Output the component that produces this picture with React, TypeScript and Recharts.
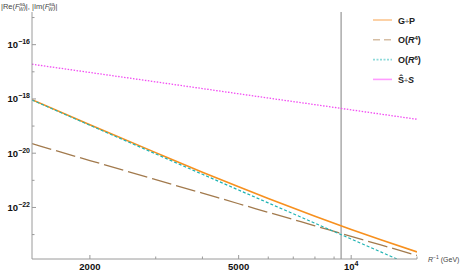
import { Customized, Line, LineChart, ReferenceLine, XAxis, YAxis } from "recharts";

const X_VALUES = [1400, 2000, 3000, 4000, 5000, 6000, 8000, 10000, 12000, 15000];
const GP = [9.34e-19, 1.12e-19, 1.05e-20, 2.0e-21, 5.75e-22, 2.13e-22, 4.72e-23, 1.55e-23, 6.45e-24, 2.3e-24];
const R4 = [2.24e-20, 5.37e-21, 1.06e-21, 3.36e-22, 1.37e-22, 6.64e-23, 2.1e-23, 8.59e-24, 4.15e-24, 1.7e-24];
const R6 = [9.12e-19, 1.07e-19, 9.4e-21, 1.67e-21, 4.38e-22, 1.47e-22, 2.62e-23, 6.86e-24, 2.3e-24, 6.0e-25];
const SS = [1.9e-17, 9.44e-18, 4.26e-18, 2.41e-18, 1.55e-18, 1.08e-18, 6.16e-19, 3.96e-19, 2.76e-19, 1.78e-19];

const X_TICKS = [2000, 3000, 4000, 5000, 6000, 7000, 8000, 9000, 10000, 15000];
const X_MAJOR = [2000, 5000, 10000];
const Y_TICKS = [1e-15, 1e-16, 1e-17, 1e-18, 1e-19, 1e-20, 1e-21, 1e-22, 1e-23];
const CUT = 9400;

const FONT = "'Liberation Sans', Arial, sans-serif";
const AXIS = "#9a9a9a";

const data = X_VALUES.map((x, i) => ({ x, gp: GP[i], r4: R4[i], r6: R6[i], ss: SS[i] }));

const LEGEND = [
  { key: "gp", color: "#fcc690", dash: undefined },
  { key: "r4", color: "#d6bea4", dash: "7 4" },
  { key: "r6", color: "#8edada", dash: "2 1.5" },
  { key: "ss", color: "#ff9cff", dash: undefined },
];

function XTick({ x, y, payload }: any) {
  const v = payload.value;
  const major = X_MAJOR.includes(v);
  return (
    <g>
      <line x1={x} x2={x} y1={y} y2={y - (major ? 4 : 2.5)} stroke={AXIS} />
      {major && (
        <text x={x} y={y + 11} textAnchor="middle" fontSize={9.5} fontWeight="bold" fontFamily={FONT} fill="#111">
          {v === 10000 ? (
            <>
              10<tspan dy={-4} fontSize={7}>4</tspan>
            </>
          ) : (
            v
          )}
        </text>
      )}
    </g>
  );
}

function YTick({ x, y, payload }: any) {
  const e = Math.round(Math.log10(payload.value));
  const major = e % 2 === 0 && e >= -22 && e <= -16;
  return (
    <g>
      <line x1={x} x2={x + (major ? 4 : 2.5)} y1={y} y2={y} stroke={AXIS} />
      {major && (
        <text x={x - 2} y={y + 3.5} textAnchor="end" fontSize={9.5} fontWeight="bold" fontFamily={FONT} fill="#111">
          10<tspan dy={-4} fontSize={7}>{"\u2212" + Math.abs(e)}</tspan>
        </text>
      )}
    </g>
  );
}

function LegendBox() {
  const labels = [
    <>G<tspan fill="#888" fontSize={7}>+</tspan>P</>,
    <>O(<tspan fontStyle="italic">R</tspan><tspan dy={-3.5} fontSize={6}>4</tspan><tspan dy={3.5}>)</tspan></>,
    <>O(<tspan fontStyle="italic">R</tspan><tspan dy={-3.5} fontSize={6}>6</tspan><tspan dy={3.5}>)</tspan></>,
    <>Ŝ<tspan fill="#888" fontSize={7}>+</tspan><tspan fontStyle="italic">S</tspan></>,
  ];
  return (
    <g transform="translate(370, 10)">
      {LEGEND.map((l, i) => (
        <g key={l.key} transform={`translate(0, ${10 + i * 19.8})`}>
          <line x1={3} x2={22} y1={0} y2={0} stroke={l.color} strokeWidth={1.6} strokeDasharray={l.dash} />
          <text x={28} y={3.5} fontSize={9} fontWeight="bold" fontFamily={FONT} fill="#222">
            {labels[i]}
          </text>
        </g>
      ))}
    </g>
  );
}

function Labels() {
  return (
    <g fontFamily={FONT} fill="#444">
      <text x={1} y={9} fontSize={7.5}>
        |Re(<tspan fontStyle="italic">F</tspan>
        <tspan dy={-3} fontSize={5}>sc</tspan>
        <tspan dx={-6} dy={5} fontSize={5} fontStyle="italic">W</tspan>
        <tspan dy={-2}>)|, |Im(</tspan>
        <tspan fontStyle="italic">F</tspan>
        <tspan dy={-3} fontSize={5}>sc</tspan>
        <tspan dx={-6} dy={5} fontSize={5} fontStyle="italic">W</tspan>
        <tspan dy={-2}>)|</tspan>
      </text>
      <text x={428} y={261.5} fontSize={7}>
        <tspan fontStyle="italic">R</tspan>
        <tspan dy={-3} fontSize={5}>{"\u22121"}</tspan>
        <tspan dy={3}> (GeV)</tspan>
      </text>
      <LegendBox />
    </g>
  );
}

export default function App() {
  return (
    <div style={{ position: "absolute", left: 0, top: 0, background: "#fff" }}>
      <LineChart width={463} height={271} data={data} margin={{ top: 12, right: 46, bottom: 0, left: 0 }}>
        <XAxis
          dataKey="x"
          type="number"
          scale="log"
          domain={[1400, 15000]}
          allowDataOverflow
          ticks={X_TICKS}
          interval={0}
          tick={<XTick />}
          tickSize={0}
          tickMargin={0}
          height={12}
          stroke={AXIS}
        />
        <YAxis
          type="number"
          scale="log"
          domain={[1.26e-24, 1.6e-15]}
          allowDataOverflow
          ticks={Y_TICKS}
          interval={0}
          tick={<YTick />}
          tickSize={0}
          tickMargin={0}
          width={32}
          stroke={AXIS}
        />
        <ReferenceLine x={CUT} stroke="#b0b0b0" strokeWidth={1.6} />
        <Line dataKey="ss" stroke="#f24cf2" strokeWidth={1.3} strokeDasharray="1.5 1.5" dot={false} type="monotone" isAnimationActive={false} />
        <Line dataKey="r4" stroke="#a27a4d" strokeWidth={1.3} strokeDasharray="20 5" dot={false} type="monotone" isAnimationActive={false} />
        <Line dataKey="gp" stroke="#f7901e" strokeWidth={1.6} dot={false} type="monotone" isAnimationActive={false} />
        <Line dataKey="r6" stroke="#1fb3b3" strokeWidth={1.2} strokeDasharray="3 2" dot={false} type="monotone" isAnimationActive={false} />
        <Customized component={<Labels />} />
      </LineChart>
    </div>
  );
}
